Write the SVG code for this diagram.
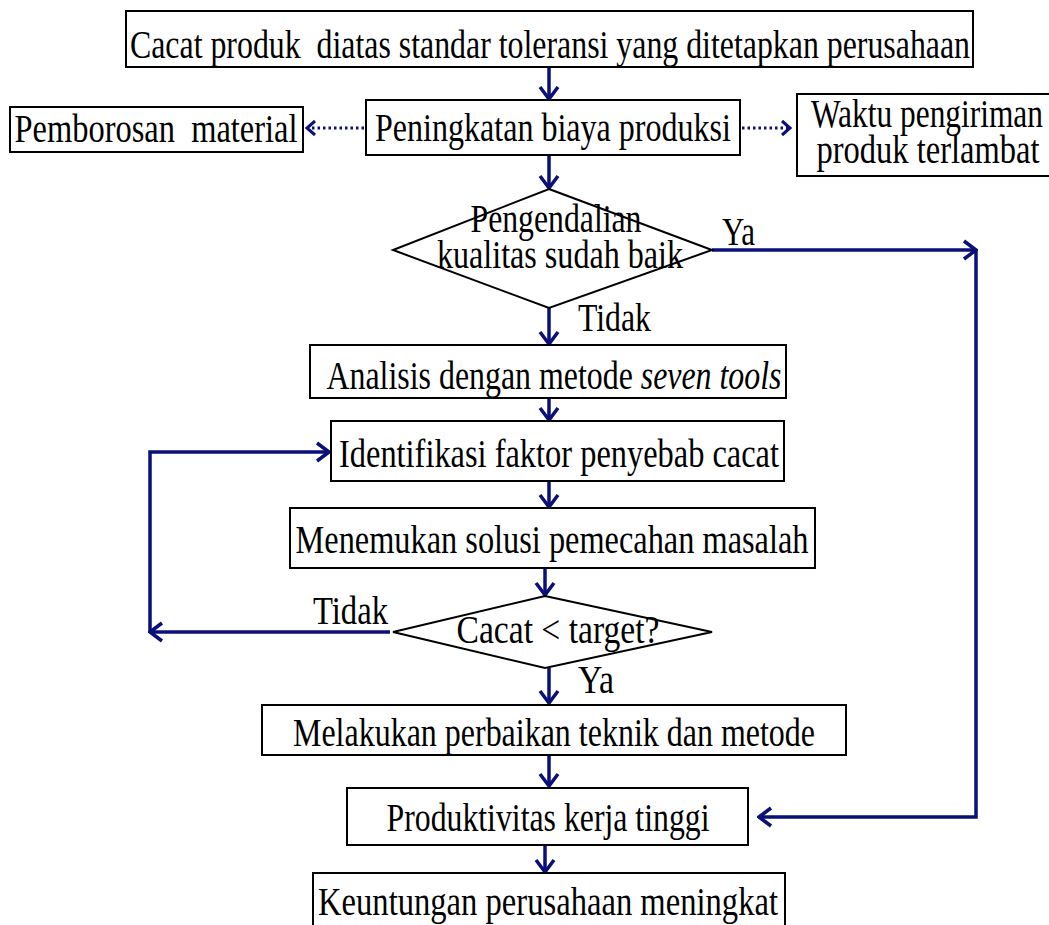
<svg xmlns="http://www.w3.org/2000/svg" width="1049" height="925" viewBox="0 0 1049 925">
<style>
.box{fill:#fff;stroke:#000;stroke-width:2}
.t{font-family:"Liberation Serif","Times New Roman",serif;font-size:39px;fill:#000;text-anchor:middle}
.tl{font-family:"Liberation Serif","Times New Roman",serif;font-size:39px;fill:#000}
.c{fill:none;stroke:#0b0f78;stroke-width:3.5}
.d{fill:none;stroke:#0b0f78;stroke-width:3;stroke-dasharray:2.5 3}
</style>
<defs>
<marker id="arr" viewBox="-15 -12 17 24" markerWidth="17" markerHeight="24" refX="0" refY="0" orient="auto" markerUnits="userSpaceOnUse">
<path d="M-12,-9 L0,0 L-12,9" fill="none" stroke="#0b0f78" stroke-width="3.5"/>
</marker>
<marker id="arrs" viewBox="-11 -9 13 18" markerWidth="13" markerHeight="18" refX="0" refY="0" orient="auto" markerUnits="userSpaceOnUse">
<path d="M-8,-7 L0,0 L-8,7" fill="none" stroke="#0b0f78" stroke-width="3"/>
</marker>
<clipPath id="c1"><rect x="126" y="11" width="847" height="56"/></clipPath>
<clipPath id="c6"><rect x="310" y="345" width="476" height="53"/></clipPath>
<clipPath id="c10"><rect x="262" y="705" width="584" height="50"/></clipPath>
<clipPath id="c11"><rect x="347" y="788" width="401" height="57"/></clipPath>
</defs>

<g id="connectors">
<line class="c" x1="549" y1="68" x2="549" y2="99" marker-end="url(#arr)"/>
<line class="d" x1="364" y1="128" x2="307" y2="128" marker-end="url(#arrs)"/>
<line class="d" x1="742" y1="128" x2="790" y2="128" marker-end="url(#arrs)"/>
<line class="c" x1="549" y1="155" x2="549" y2="188" marker-end="url(#arr)"/>
<line class="c" x1="712" y1="250" x2="976" y2="250" marker-end="url(#arr)"/>
<polyline class="c" points="976,250 976,817 759,817" marker-end="url(#arr)"/>
<line class="c" x1="549" y1="308" x2="549" y2="344" marker-end="url(#arr)"/>
<line class="c" x1="549" y1="398" x2="549" y2="420" marker-end="url(#arr)"/>
<line class="c" x1="549" y1="481" x2="549" y2="507" marker-end="url(#arr)"/>
<line class="c" x1="545" y1="568" x2="545" y2="595" marker-end="url(#arr)"/>
<polyline class="c" points="390,632 150,632" marker-end="url(#arr)"/>
<polyline class="c" points="150,632 150,452 329,452" marker-end="url(#arr)"/>
<line class="c" x1="549" y1="668" x2="549" y2="703" marker-end="url(#arr)"/>
<line class="c" x1="549" y1="755" x2="549" y2="786" marker-end="url(#arr)"/>
<line class="c" x1="545" y1="845" x2="545" y2="872" marker-end="url(#arr)"/>
<text class="tl" x="722" y="245" textLength="33" lengthAdjust="spacingAndGlyphs">Ya</text>
<text class="tl" x="578" y="331" textLength="73" lengthAdjust="spacingAndGlyphs">Tidak</text>
<text class="tl" x="313" y="624" textLength="75" lengthAdjust="spacingAndGlyphs">Tidak</text>
<text class="tl" x="578" y="693" textLength="36" lengthAdjust="spacingAndGlyphs">Ya</text>
</g>

<g id="n1">
<rect class="box" x="126" y="11" width="847" height="56"/>
<text class="t" xml:space="preserve" clip-path="url(#c1)" x="550" y="58" textLength="840" lengthAdjust="spacingAndGlyphs">Cacat produk  diatas standar toleransi yang ditetapkan perusahaan</text>
</g>
<g id="n2">
<rect class="box" x="366" y="100" width="374" height="55"/>
<text class="t" x="553" y="141" textLength="356" lengthAdjust="spacingAndGlyphs">Peningkatan biaya produksi</text>
</g>
<g id="n3">
<rect class="box" x="10" y="107" width="293" height="45"/>
<text class="t" xml:space="preserve" x="156" y="142" textLength="283" lengthAdjust="spacingAndGlyphs">Pemborosan  material</text>
</g>
<g id="n4">
<rect class="box" x="797" y="94" width="262" height="82"/>
<text class="t" x="927" y="127" textLength="232" lengthAdjust="spacingAndGlyphs">Waktu pengiriman</text>
<text class="t" x="928" y="163" textLength="223" lengthAdjust="spacingAndGlyphs">produk terlambat</text>
</g>
<g id="n5">
<polygon class="box" points="549,189 712,250 549,308 393,250"/>
<text class="t" x="556" y="232" textLength="171" lengthAdjust="spacingAndGlyphs">Pengendalian</text>
<text class="t" x="560" y="268" textLength="246" lengthAdjust="spacingAndGlyphs">kualitas sudah baik</text>
</g>
<g id="n6">
<rect class="box" x="310" y="345" width="476" height="53"/>
<text class="t" clip-path="url(#c6)" x="554" y="389" textLength="455" lengthAdjust="spacingAndGlyphs">Analisis dengan metode <tspan font-style="italic">seven tools</tspan></text>
</g>
<g id="n7">
<rect class="box" x="331" y="421" width="453" height="60"/>
<text class="t" x="559" y="467" textLength="440" lengthAdjust="spacingAndGlyphs">Identifikasi faktor penyebab cacat</text>
</g>
<g id="n8">
<rect class="box" x="290" y="508" width="525" height="60"/>
<text class="t" x="552" y="553" textLength="513" lengthAdjust="spacingAndGlyphs">Menemukan solusi pemecahan masalah</text>
</g>
<g id="n9">
<polygon class="box" points="545,596 712,632 545,668 393,632"/>
<text class="t" x="558" y="643" textLength="203" lengthAdjust="spacingAndGlyphs">Cacat &lt; target?</text>
</g>
<g id="n10">
<rect class="box" x="262" y="705" width="584" height="50"/>
<text class="t" clip-path="url(#c10)" x="554" y="746" textLength="522" lengthAdjust="spacingAndGlyphs">Melakukan perbaikan teknik dan metode</text>
</g>
<g id="n11">
<rect class="box" x="347" y="788" width="401" height="57"/>
<text class="t" clip-path="url(#c11)" x="548" y="831" textLength="323" lengthAdjust="spacingAndGlyphs">Produktivitas kerja tinggi</text>
</g>
<g id="n12">
<rect class="box" x="313" y="873" width="472" height="62"/>
<text class="t" x="548" y="915" textLength="460" lengthAdjust="spacingAndGlyphs">Keuntungan perusahaan meningkat</text>
</g>
</svg>
